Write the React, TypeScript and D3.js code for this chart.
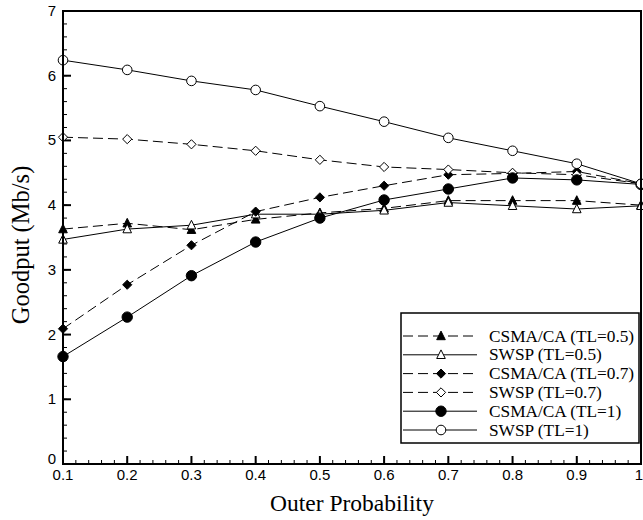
import React from "react";
import * as d3 from "d3";

const xValues = [0.1, 0.2, 0.3, 0.4, 0.5, 0.6, 0.7, 0.8, 0.9, 1.0];
const csma05 = [3.63, 3.72, 3.62, 3.78, 3.88, 3.95, 4.07, 4.07, 4.07, 4.0];
const swsp05 = [3.47, 3.63, 3.69, 3.86, 3.86, 3.92, 4.04, 3.99, 3.94, 3.99];
const csma07 = [2.09, 2.77, 3.38, 3.9, 4.12, 4.3, 4.47, 4.49, 4.52, 4.33];
const swsp07 = [5.05, 5.02, 4.94, 4.84, 4.7, 4.59, 4.55, 4.5, 4.47, 4.33];
const csma1 = [1.66, 2.27, 2.91, 3.43, 3.8, 4.08, 4.25, 4.42, 4.39, 4.32];
const swsp1 = [6.24, 6.09, 5.92, 5.78, 5.53, 5.29, 5.04, 4.84, 4.64, 4.33];

const seriesNames = [
  "CSMA/CA (TL=0.5)",
  "SWSP (TL=0.5)",
  "CSMA/CA (TL=0.7)",
  "SWSP (TL=0.7)",
  "CSMA/CA (TL=1)",
  "SWSP (TL=1)",
];
const seriesData = [csma05, swsp05, csma07, swsp07, csma1, swsp1];
const seriesDashed = [true, false, true, true, false, false];
const seriesMarker = ["triangle", "triangle", "diamond", "diamond", "circle", "circle"];
const seriesFilled = [true, false, true, false, true, false];

const xTickLabels = ["0.1", "0.2", "0.3", "0.4", "0.5", "0.6", "0.7", "0.8", "0.9", "1"];
const yTicks = [0, 1, 2, 3, 4, 5, 6, 7];

const W = 643;
const H = 520;
const L = 63;
const R = 641;
const T = 11;
const B = 464;

const SANS = "'Liberation Sans', Arimo, Arial, sans-serif";
const SERIF = "'Liberation Serif', Tinos, 'Times New Roman', serif";

function Marker({ type, filled, x, y }: { type: string; filled: boolean; x: number; y: number }) {
  const fill = filled ? "#000" : "#fff";
  if (type === "circle") {
    return <circle cx={x} cy={y} r={filled ? 5.2 : 4.8} fill={fill} stroke="#000" strokeWidth={1} />;
  }
  if (type === "diamond") {
    const s = 4.6;
    return (
      <path
        d={`M${x},${y - s}L${x + s},${y}L${x},${y + s}L${x - s},${y}Z`}
        fill={fill}
        stroke="#000"
        strokeWidth={1}
      />
    );
  }
  const h = 4.3;
  return (
    <path
      d={`M${x},${y - h - 0.6}L${x + 4.3},${y + h - 0.6}L${x - 4.3},${y + h - 0.6}Z`}
      fill={fill}
      stroke="#000"
      strokeWidth={1}
    />
  );
}

export default function App() {
  const x = d3.scaleLinear().domain([0.1, 1]).range([L, R]);
  const y = d3.scaleLinear().domain([0, 7]).range([B, T]);
  const line = d3
    .line<number>()
    .x((_, i) => x(xValues[i]))
    .y((d) => y(d));

  const xMinor = d3.range(10, 101, 2).map((v) => v / 100);
  const yMinor = d3.range(0, 36, 1).map((v) => v / 5);

  const legX = 401;
  const legY = 313;
  const legW = 238;
  const legH = 130;
  const rowY0 = 336;
  const rowStep = 18.8;

  return (
    <svg width={W} height={H} style={{ position: "absolute", left: 0, top: 0, background: "#fff" }}>
      <rect x={0} y={0} width={W} height={H} fill="#fff" />
      {xMinor.map((v, i) => (
        <line key={"xm" + i} x1={x(v)} x2={x(v)} y1={B} y2={B - 4} stroke="#000" strokeWidth={1} />
      ))}
      {xValues.map((v, i) => (
        <line key={"xM" + i} x1={x(v)} x2={x(v)} y1={B} y2={B - 8} stroke="#000" strokeWidth={2} />
      ))}
      {yMinor.map((v, i) => (
        <line key={"ym" + i} x1={L} x2={L + 4} y1={y(v)} y2={y(v)} stroke="#000" strokeWidth={1} />
      ))}
      {yTicks.map((v, i) => (
        <line key={"yM" + i} x1={L} x2={L + 8} y1={y(v)} y2={y(v)} stroke="#000" strokeWidth={2} />
      ))}
      {seriesData.map((d, i) => (
        <path
          key={"l" + i}
          d={line(d) || ""}
          fill="none"
          stroke="#000"
          strokeWidth={1}
          strokeDasharray={seriesDashed[i] ? "10,5" : undefined}
        />
      ))}
      {seriesData.map((d, i) =>
        d.map((v, j) => (
          <Marker key={"m" + i + "-" + j} type={seriesMarker[i]} filled={seriesFilled[i]} x={x(xValues[j])} y={y(v)} />
        ))
      )}
      <rect x={L} y={T} width={R - L} height={B - T} fill="none" stroke="#000" strokeWidth={2} />
      {yTicks.map((v, i) => (
        <text
          key={"yl" + i}
          x={L - 7}
          y={y(v) + (v === 0 ? 0 : 5)}
          textAnchor="end"
          style={{ fontFamily: SANS }}
          fontSize={15}
        >
          {v}
        </text>
      ))}
      {xValues.map((v, i) => (
        <text
          key={"xl" + i}
          x={x(v) + (i === 9 ? -2 : 0)}
          y={B + 16}
          textAnchor="middle"
          style={{ fontFamily: SANS }}
          fontSize={15}
        >
          {xTickLabels[i]}
        </text>
      ))}
      <text x={352} y={511} textAnchor="middle" style={{ fontFamily: SERIF }} fontSize={23.5}>
        Outer Probability
      </text>
      <text
        transform={`translate(29,245) rotate(-90)`}
        textAnchor="middle"
        style={{ fontFamily: SERIF }}
        fontSize={24.5}
      >
        Goodput (Mb/s)
      </text>
      <rect x={legX} y={legY} width={legW} height={legH} fill="#fff" stroke="#000" strokeWidth={1.5} />
      {seriesNames.map((name, i) => {
        const ry = rowY0 + i * rowStep;
        return (
          <g key={"lg" + i}>
            <line
              x1={403}
              x2={477}
              y1={ry}
              y2={ry}
              stroke="#000"
              strokeWidth={1}
              strokeDasharray={seriesDashed[i] ? "10,5" : undefined}
            />
            <Marker type={seriesMarker[i]} filled={seriesFilled[i]} x={441} y={ry} />
            <text x={489} y={ry + 5.5} style={{ fontFamily: SERIF }} fontSize={17.3}>
              {name}
            </text>
          </g>
        );
      })}
    </svg>
  );
}
